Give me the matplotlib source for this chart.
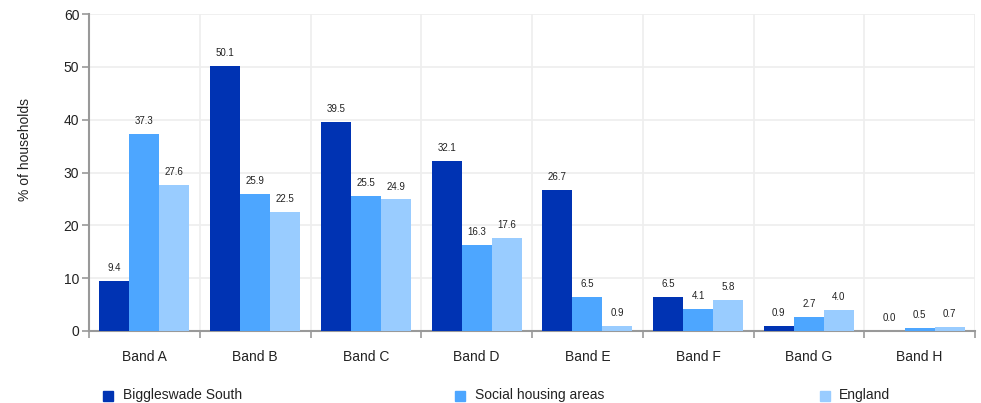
import matplotlib
matplotlib.use("Agg")
import matplotlib.pyplot as plt
import numpy as np
from matplotlib.patches import Rectangle

plt.rcParams['font.family'] = ['Liberation Sans', 'DejaVu Sans']

categories = ["Band A", "Band B", "Band C", "Band D", "Band E", "Band F", "Band G", "Band H"]
biggleswade = [9.4, 50.1, 39.5, 32.1, 26.7, 6.5, 0.9, 0.0]
social = [37.3, 25.9, 25.5, 16.3, 6.5, 4.1, 2.7, 0.5]
england = [27.6, 22.5, 24.9, 17.6, 0.9, 5.8, 4.0, 0.7]
series_names = ["Biggleswade South", "Social housing areas", "England"]
colors = ["#0033b3", "#4da6ff", "#99ccff"]

fig = plt.figure(figsize=(9.81, 4.03), dpi=100)
ax = fig.add_axes([89/981, 1-331/403, (975-89)/981, (331-14)/403])

n = len(categories)
x = np.arange(n)
bw = 0.271
for i, (vals, c) in enumerate(zip([biggleswade, social, england], colors)):
    pos = x + (i - 1) * bw
    ax.bar(pos, vals, width=bw, color=c, zorder=3)
    for p, v in zip(pos, vals):
        ax.text(p, v + 1.5, f"{v:.1f}", ha="center", va="bottom", fontsize=7, color="#222222", zorder=4)

ax.set_xlim(-0.5, n - 0.5)
ax.set_ylim(0, 60)
ax.set_yticks(range(0, 61, 10))
ax.set_yticklabels([str(v) for v in range(0, 61, 10)], fontsize=10, color="#222222")
ax.set_xticks(np.arange(-0.5, n, 1.0))
ax.set_xticklabels([])
ax.set_xticks(x, minor=True)
ax.set_xticklabels(categories, minor=True, fontsize=10, color="#222222")
ax.tick_params(axis='x', which='minor', length=0, pad=14)
ax.tick_params(axis='x', which='major', length=5, color="#999999", width=1.2)
ax.tick_params(axis='y', length=5, color="#999999", width=1.2, pad=2)

ax.grid(True, which='major', color="#eeeeee", linewidth=1.2, zorder=0)
for s in ["top", "right"]:
    ax.spines[s].set_visible(False)
for s in ["left", "bottom"]:
    ax.spines[s].set_color("#999999")
    ax.spines[s].set_linewidth(1.5)

fig.text(25/981, 1-150/403, "% of households", rotation=90, ha="center", va="center", fontsize=10, color="#222222")

leg_x = [103, 455, 820]
text_x = [123, 475, 839]
for lx, tx, name, c in zip(leg_x, text_x, series_names, colors):
    fig.patches.append(Rectangle((lx/981, 1-401/403), 10/981, 10/403, transform=fig.transFigure, color=c, figure=fig))
    fig.text(tx/981, 1-395/403, name, ha="left", va="center", fontsize=10, color="#222222")

fig.savefig("out.png", dpi=100)
